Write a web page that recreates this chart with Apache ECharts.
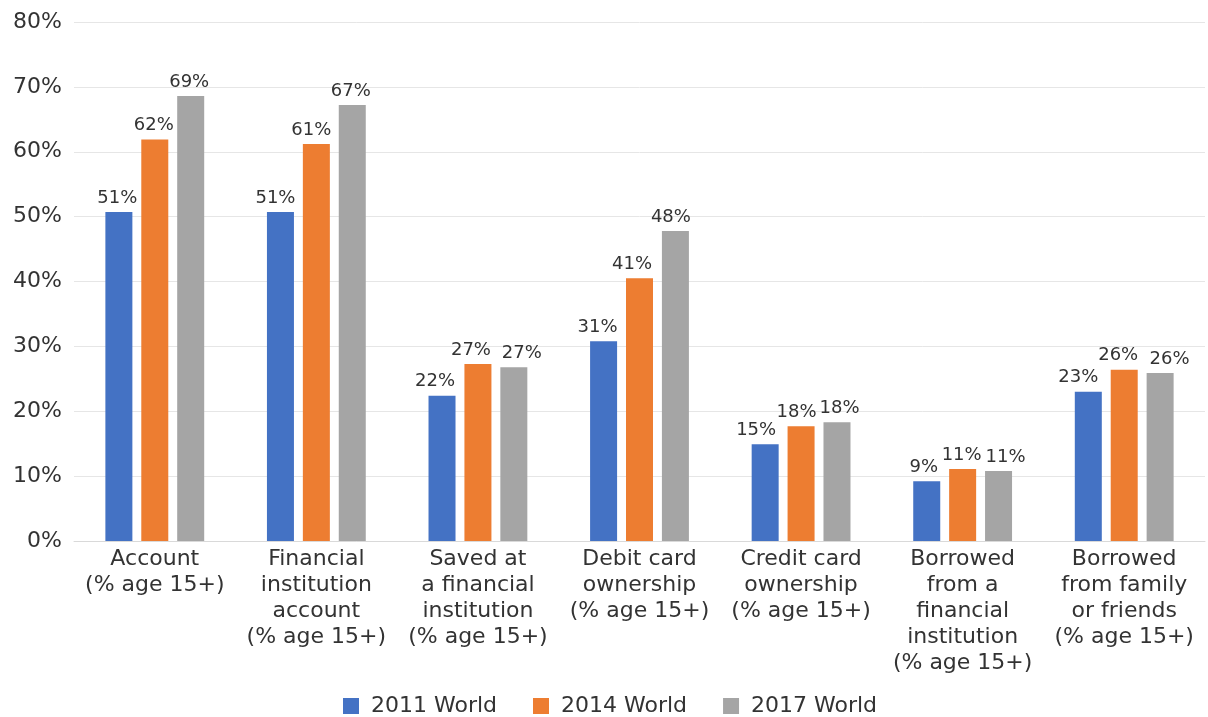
<!DOCTYPE html>
<html>
<head>
<meta charset="utf-8">
<script src="https://cdn.jsdelivr.net/npm/echarts@6/dist/echarts.min.js"></script>
<style>html,body{margin:0;padding:0;background:#fff}#c{width:1208px;height:717px}</style>
</head>
<body>
<div id="c"></div>
<script>
const categories = [
  "Account\n(% age 15+)",
  "Financial\ninstitution\naccount\n(% age 15+)",
  "Saved at\na financial\ninstitution\n(% age 15+)",
  "Debit card\nownership\n(% age 15+)",
  "Credit card\nownership\n(% age 15+)",
  "Borrowed\nfrom a\nfinancial\ninstitution\n(% age 15+)",
  "Borrowed\nfrom family\nor friends\n(% age 15+)"
];
const seriesNames = ["2011 World", "2014 World", "2017 World"];
const values2011 = [50.7, 50.7, 22.4, 30.8, 14.9, 9.2, 23.0];
const values2014 = [61.9, 61.2, 27.3, 40.5, 17.7, 11.1, 26.4];
const values2017 = [68.6, 67.2, 26.8, 47.8, 18.3, 10.8, 25.9];

// style only: horizontal nudges of the value labels (as placed in the original)
const labelShift2011 = [-1.5, -5, -7, -6, -9, -3, -10];
const labelShift2014 = [-1, -5, -7, -7.5, -4.5, -1, -6];
const labelShift2017 = [-1.5, -1.5, 8, -4.5, 2.5, 7, 9.5];

const colors = ["#4472C4", "#ED7D31", "#A5A5A5"];
const FONT = "DejaVu Sans, Liberation Sans, Arial, sans-serif";
const TEXT = "#333333";

const chart = echarts.init(document.getElementById('c'), null, {renderer: 'canvas'});
const mk = (name, data, shifts, color) => ({
  name: name,
  type: 'bar',
  data: data.map((v, i) => ({value: v, label: {offset: [shifts[i], 0]}})),
  barWidth: 27,
  barGap: '33%',
  itemStyle: {color: color},
  label: {
    show: true,
    position: 'top',
    distance: 5,
    color: TEXT,
    fontFamily: FONT,
    fontSize: 18,
    formatter: p => Math.round(p.value) + '%'
  }
});
chart.setOption({
  animation: false,
  backgroundColor: '#fff',
  color: colors,
  grid: {left: 74, right: 3, top: 22, bottom: 176, containLabel: false},
  legend: {
    bottom: -5,
    left: 338,
    icon: 'rect',
    itemWidth: 16,
    itemHeight: 16,
    itemGap: 36,
    textStyle: {fontFamily: FONT, fontSize: 22, color: TEXT, padding: [0, 0, 0, 7]},
    data: seriesNames
  },
  xAxis: {
    type: 'category',
    data: categories,
    axisTick: {show: false},
    axisLine: {lineStyle: {color: '#d9d9d9'}},
    axisLabel: {
      interval: 0,
      margin: 5,
      color: TEXT,
      fontFamily: FONT,
      fontSize: 22,
      lineHeight: 26,
      align: 'center'
    }
  },
  yAxis: {
    type: 'value',
    min: 0,
    max: 80,
    interval: 10,
    axisLine: {show: false},
    axisTick: {show: false},
    splitLine: {lineStyle: {color: '#e6e6e6'}},
    axisLabel: {
      margin: 12,
      color: TEXT,
      fontFamily: FONT,
      fontSize: 22,
      formatter: v => v + '%'
    }
  },
  series: [
    mk(seriesNames[0], values2011, labelShift2011, colors[0]),
    mk(seriesNames[1], values2014, labelShift2014, colors[1]),
    mk(seriesNames[2], values2017, labelShift2017, colors[2])
  ]
});
</script>
</body>
</html>
